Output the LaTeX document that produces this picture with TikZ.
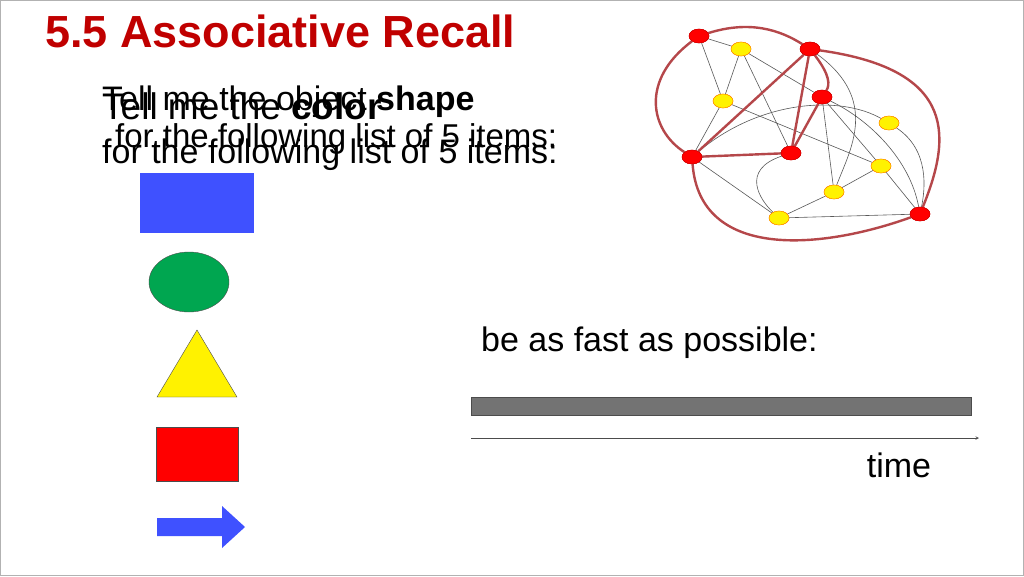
\documentclass[tikz,border=0pt]{standalone}
\usepackage{fontspec}
\setmainfont{Liberation Sans}
\definecolor{titlered}{HTML}{C00000}
\definecolor{edgered}{HTML}{B5474A}
\definecolor{shblue}{HTML}{3F51FF}
\definecolor{shgreen}{HTML}{00A650}
\tikzset{
 rn/.style={ellipse,draw=red!80!black,fill=red,minimum width=20pt,minimum height=14pt,inner sep=0pt},
 yn/.style={ellipse,draw=orange,fill=yellow,minimum width=20pt,minimum height=14pt,inner sep=0pt},
 thick edge/.style={draw=edgered,line width=2.4pt},
 thin edge/.style={draw=gray!70!black,line width=0.6pt},
 txt/.style={anchor=base west,inner sep=0pt}
}
\usetikzlibrary{shapes.geometric}
\begin{document}
\begin{tikzpicture}[x=1pt,y=-1pt]
\path[draw=gray!60,fill=white] (0.5,0.5) rectangle (1023.5,575.5);
\useasboundingbox (0,0) rectangle (1024,576);
\node[txt,text=titlered,font=\bfseries\fontsize{45}{47}\selectfont] (title) at (45,47) {5.5 Associative Recall};
\node[txt,font=\fontsize{34}{36}\selectfont] (t1) at (102,110) {Tell me the object \textbf{shape}};
\node[txt,font=\fontsize{33}{35}\selectfont] (t2) at (115,147) {for the following list of 5 items:};
\node[txt,font=\fontsize{37}{39}\selectfont] (t3) at (102,119) {Tell me the \textbf{color}};
\node[txt,font=\fontsize{34}{36}\selectfont] (t4) at (102,163) {for the following list of 5 items:};
% shapes
\fill[shblue] (140,173) rectangle (254,233);
\draw[fill=shgreen,draw=black!70] (189,282) ellipse (40 and 30);
\draw[fill=yellow,draw=black!70] (157,397) -- (237,397) -- (197,330) -- cycle;
\draw[fill=red,draw=black!70] (156,427) rectangle (238,481);
\fill[shblue] (157,518) -- (222,518) -- (222,506) -- (245,527) -- (222,548) -- (222,536) -- (157,536) -- cycle;
% timing
\node[txt,font=\fontsize{34}{36}\selectfont] (fast) at (481,351) {be as fast as possible:};
\draw[fill=gray!90!black,draw=black!70] (471,397) rectangle (971,415);
\coordinate (ta) at (471,438); \coordinate (tb) at (979,438);
\draw[-stealth,gray!60!black,line width=0.6pt] (ta) -- (tb);
\node[font=\fontsize{34}{36}\selectfont] (time) at (899,465) {time};
% network
\node[rn] (R1) at (699,36) {};
\node[yn] (Y1) at (741,49) {};
\node[rn] (R2) at (810,49) {};
\node[yn] (Y2) at (723,101) {};
\node[rn] (R3) at (822,97) {};
\node[yn] (Y3) at (889,123) {};
\node[rn] (R4) at (692,157) {};
\node[rn] (R5) at (791,153) {};
\node[yn] (Y4) at (881,166) {};
\node[yn] (Y5) at (834,192) {};
\node[yn] (Y6) at (779,218) {};
\node[rn] (R6) at (920,214) {};
\draw[thin edge] (R1)--(Y2) (R1)--(Y1) (Y1)--(R3) (Y1)--(Y2) (Y1)--(R5) (Y2)--(R4) (Y2)--(Y4)
 (R4)--(Y6) (Y6)--(Y5) (Y5)--(Y4) (Y6)--(R6) (R3)--(Y5) (R3)--(Y4) (Y4)--(R6);
\draw[thin edge] (R4) .. controls (760,100) and (840,95) .. (Y3);
\draw[thin edge] (R5) .. controls (740,170) and (760,200) .. (Y6);
\draw[thin edge] (R3) .. controls (870,120) and (910,160) .. (R6);
\draw[thin edge] (R2) .. controls (880,100) and (850,150) .. (Y5);
\draw[thin edge] (Y3) .. controls (930,150) and (925,190) .. (R6);
\draw[thick edge] (R1) .. controls (750,20) and (780,30) .. (R2);
\draw[thick edge] (R1) .. controls (640,80) and (650,130) .. (R4);
\draw[thick edge] (R2) .. controls (960,70) and (950,140) .. (R6);
\draw[thick edge] (R4) .. controls (700,260) and (820,250) .. (R6);
\draw[thick edge] (R2)--(R4) (R4)--(R5) (R2)--(R5) (R3)--(R5);
\draw[thick edge] (R2) .. controls (830,75) and (830,85) .. (R3);
\node[rn] at (R1) {}; \node[yn] at (Y1) {}; \node[rn] at (R2) {};
\node[yn] at (Y2) {}; \node[rn] at (R3) {}; \node[yn] at (Y3) {};
\node[rn] at (R4) {}; \node[rn] at (R5) {}; \node[yn] at (Y4) {};
\node[yn] at (Y5) {}; \node[yn] at (Y6) {}; \node[rn] at (R6) {};
\end{tikzpicture}
\end{document}
